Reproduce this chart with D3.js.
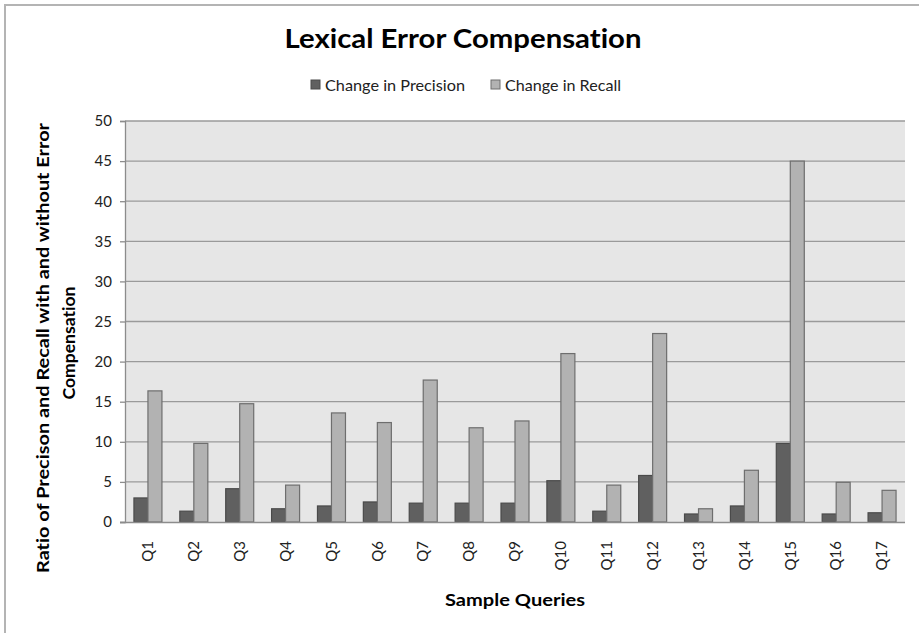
<!DOCTYPE html>
<html>
<head>
<meta charset="utf-8">
<script src="https://cdn.jsdelivr.net/npm/d3@7"></script>
<style>
  html, body { margin: 0; padding: 0; background: #fff; }
  svg { display: block; }
  text { font-family: Lato, "Open Sans", sans-serif; font-variant-ligatures: none; font-feature-settings: "liga" 0, "dlig" 0; }
</style>
</head>
<body>
<svg id="chart" width="919" height="633"></svg>
<script>
const categories = ["Q1","Q2","Q3","Q4","Q5","Q6","Q7","Q8","Q9","Q10","Q11","Q12","Q13","Q14","Q15","Q16","Q17"];
const precision = [3.0, 1.35, 4.15, 1.65, 2.0, 2.5, 2.35, 2.35, 2.35, 5.15, 1.35, 5.8, 1.0, 2.0, 9.8, 1.0, 1.15];
const recall = [16.35, 9.8, 14.75, 4.6, 13.6, 12.4, 17.7, 11.75, 12.6, 21.0, 4.6, 23.5, 1.65, 6.45, 45.0, 4.95, 3.95];
const seriesNames = ["Change in Precision", "Change in Recall"];
const yTicks = [0,5,10,15,20,25,30,35,40,45,50];

const svg = d3.select("#chart");
const m = {left: 125, right: 905, top: 121, bottom: 522};

// outer border (top and left visible)
svg.append("path").attr("d", "M5,633 V5 H919").attr("fill", "none")
  .attr("stroke", "#b4b4b4").attr("stroke-width", 2);

const x = d3.scaleBand().domain(categories).range([m.left, m.right]).paddingInner(0).paddingOuter(0);
const barW = 14;
const y = d3.scaleLinear().domain([0, 50]).range([m.bottom, m.top]);

// plot background
svg.append("rect").attr("x", m.left).attr("y", m.top)
  .attr("width", m.right - m.left).attr("height", m.bottom - m.top)
  .attr("fill", "#e6e6e6");

// gridlines
svg.append("g").selectAll("line").data(yTicks.filter(d => d > 0)).join("line")
  .attr("x1", m.left).attr("x2", m.right)
  .attr("y1", d => y(d)).attr("y2", d => y(d))
  .attr("stroke", "#9a9a9a").attr("stroke-width", 1.3);

// y axis
const yAxis = svg.append("g").attr("transform", `translate(${m.left},0)`)
  .call(d3.axisLeft(y).tickValues(yTicks).tickSize(5).tickPadding(8));
yAxis.select(".domain").attr("stroke", "#8c8c8c").attr("stroke-width", 1.3);
yAxis.selectAll(".tick line").attr("stroke", "#8c8c8c").attr("stroke-width", 1.3);
yAxis.selectAll(".tick text").attr("font-size", 15).attr("fill", "#222")
  .style("font-family", "Lato, sans-serif");

// bars
const colors = ["#606060", "#b2b2b2"];
const strokes = ["#4a4a4a", "#6e6e6e"];
[precision, recall].forEach((vals, si) => {
  svg.append("g").selectAll("rect").data(vals).join("rect")
    .attr("x", (d, i) => x(categories[i]) + x.bandwidth() / 2 - barW + si * barW)
    .attr("y", d => y(d))
    .attr("width", barW)
    .attr("height", d => y(0) - y(d))
    .attr("fill", colors[si])
    .attr("stroke", strokes[si]).attr("stroke-width", 1.2);
});

// x axis
const xAxis = svg.append("g").attr("transform", `translate(0,${m.bottom})`)
  .call(d3.axisBottom(x).tickSize(0).tickPadding(0));
xAxis.select(".domain").attr("stroke", "#8c8c8c").attr("stroke-width", 1.5)
  .attr("d", `M${m.left - 5},0.5H${m.right}`);
xAxis.selectAll(".tick text")
  .attr("transform", "rotate(-90)")
  .attr("text-anchor", "end")
  .attr("x", -19).attr("y", 0).attr("dy", "0.35em")
  .attr("font-size", 15).attr("fill", "#222")
  .style("font-family", "Lato, sans-serif");

// title
svg.append("text").attr("x", 463).attr("y", 48).attr("text-anchor", "middle")
  .attr("font-size", 27).attr("font-weight", "bold").attr("fill", "#000")
  .attr("textLength", 357).attr("lengthAdjust", "spacingAndGlyphs")
  .text("Lexical Error Compensation");

// legend
const legX = [311, 491];
const legTextW = [140, 116];
seriesNames.forEach((n, i) => {
  svg.append("rect").attr("x", legX[i]).attr("y", 80).attr("width", 9).attr("height", 9)
    .attr("fill", colors[i]).attr("stroke", strokes[i]).attr("stroke-width", 1);
  svg.append("text").attr("x", legX[i] + 14).attr("y", 91)
    .attr("font-size", 15).attr("fill", "#222")
    .attr("textLength", legTextW[i]).attr("lengthAdjust", "spacingAndGlyphs")
    .text(n);
});

// y-axis title
svg.append("text").attr("transform", "translate(49,348) rotate(-90)")
  .attr("text-anchor", "middle").attr("font-size", 17).attr("font-weight", "bold")
  .attr("textLength", 450).attr("lengthAdjust", "spacingAndGlyphs")
  .text("Ratio of Precison and Recall with and without Error");
svg.append("text").attr("transform", "translate(75,343) rotate(-90)")
  .attr("text-anchor", "middle").attr("font-size", 17).attr("font-weight", "bold")
  .attr("textLength", 113).attr("lengthAdjust", "spacingAndGlyphs")
  .text("Compensation");

// x-axis title
svg.append("text").attr("x", 515).attr("y", 606).attr("text-anchor", "middle")
  .attr("font-size", 17).attr("font-weight", "bold")
  .attr("textLength", 140).attr("lengthAdjust", "spacingAndGlyphs")
  .text("Sample Queries");
</script>
</body>
</html>
